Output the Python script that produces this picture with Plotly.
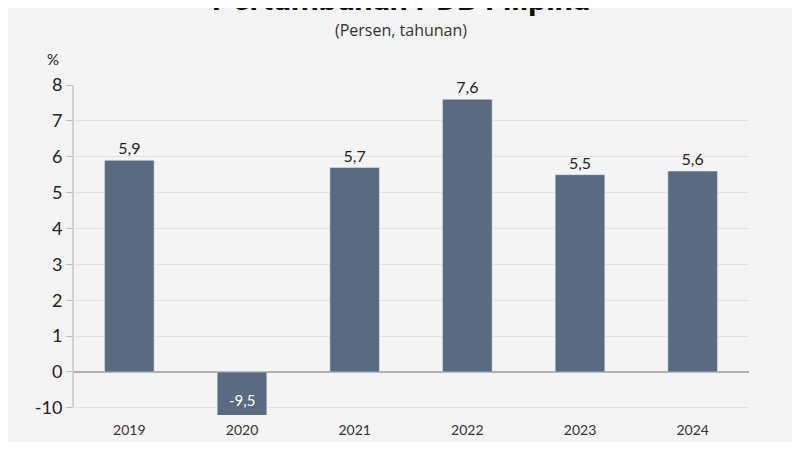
import plotly.graph_objects as go

# Pertumbuhan PDB Filipina, persen tahunan
years = ["2019", "2020", "2021", "2022", "2023", "2024"]
growth = [5.9, -9.5, 5.7, 7.6, 5.5, 5.6]

# y axis is broken below zero: the "-10" tick sits one unit under 0
tick_vals = [-1, 0, 1, 2, 3, 4, 5, 6, 7, 8]
tick_text = ["-10", "0", "1", "2", "3", "4", "5", "6", "7", "8"]

BAR = "#5a6a80"
FONT = "Lato"

fmt = lambda v: f"{v:.1f}".replace(".", ",")
labels = [fmt(v) if v >= 0 else "" for v in growth]

fig = go.Figure()
fig.add_trace(go.Bar(
    x=years, y=growth, marker=dict(color=BAR),
    text=labels, textposition="outside", cliponaxis=False,
    textfont=dict(size=16, color="#222", family=FONT)))

# label of the clipped negative bar, white inside it
# (x given as category index: "2020" would be read as position 2020)
for i, v in enumerate(growth):
    if v < 0:
        fig.add_annotation(x=i, y=-0.78, text=fmt(v), showarrow=False,
                           font=dict(size=15, color="white", family=FONT))

# vertical axis line only down to the -10 tick
fig.add_shape(type="line", xref="paper", yref="y", x0=0, x1=0, y0=-1, y1=8,
              line=dict(color="#bdbdbd", width=1.2))

top_notes = [
    ("<b>Pertumbuhan PDB Filipina</b>", 0.485, 1.262, 32, "#111", "Roboto"),
    ("(Persen, tahunan)", 0.485, 1.166, 16, "#333", "Open Sans"),
    ("%", -0.03, 1.08, 15, "#222", FONT),
]
for txt, xx, yy, sz, col, fam in top_notes:
    fig.add_annotation(text=txt, xref="paper", yref="paper", x=xx, y=yy,
                       xanchor="center", yanchor="middle", showarrow=False,
                       font=dict(size=sz, color=col, family=fam))

# the page body adds an 8px offset, so the figure is made 16px smaller
fig.update_layout(
    width=784, height=434,
    paper_bgcolor="#f4f4f4", plot_bgcolor="#f4f4f4",
    margin=dict(l=65, r=43, t=77, b=27, autoexpand=False),
    bargap=0.56, showlegend=False,
    xaxis=dict(type="category", range=[-0.5, 5.5], showgrid=False,
               showline=False, ticks="", automargin=False,
               ticklabelstandoff=5,
               tickfont=dict(size=14, color="#333", family=FONT)),
    yaxis=dict(range=[-1.2, 8], tickvals=tick_vals, ticktext=tick_text,
               showgrid=True, gridcolor="#e2e2e2", gridwidth=1,
               zeroline=True, zerolinecolor="#b0b0b0", zerolinewidth=1.5,
               ticks="outside", ticklen=6, tickcolor="#bdbdbd",
               showline=False, automargin=False,
               tickfont=dict(size=18, color="#222", family=FONT)),
)

fig.write_html("out.html")
